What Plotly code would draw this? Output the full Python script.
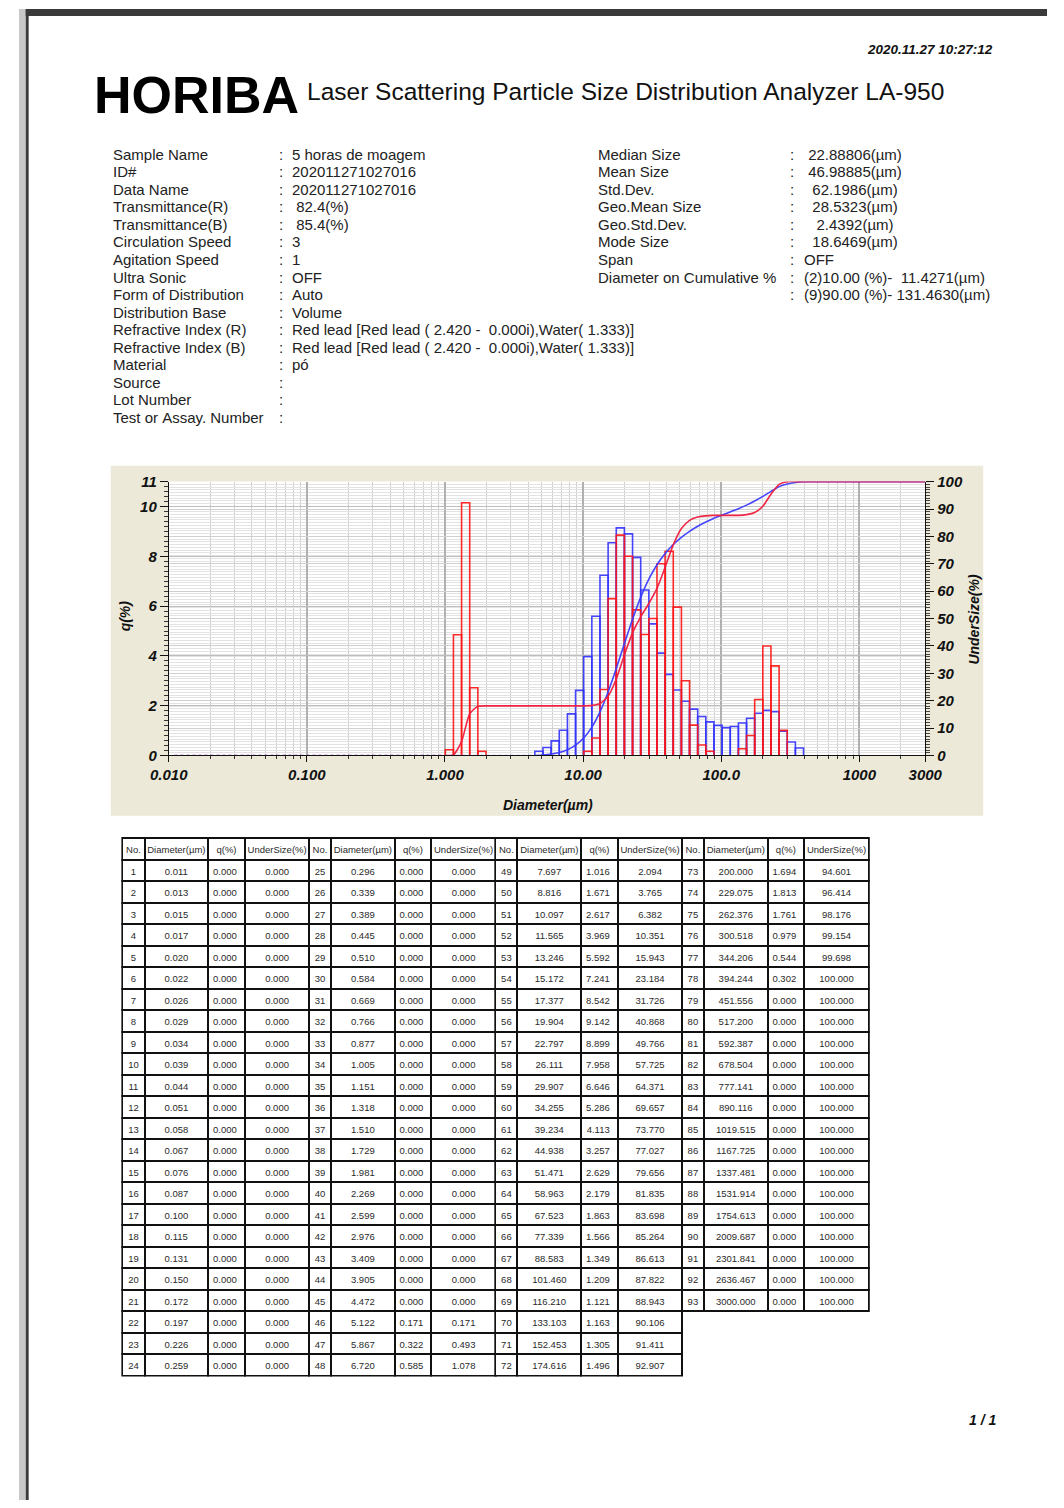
import plotly.graph_objects as go

# ---------------- data ----------------
diameter = [0.011, 0.013, 0.015, 0.017, 0.020, 0.022, 0.026, 0.029, 0.034, 0.039, 0.044, 0.051,
            0.058, 0.067, 0.076, 0.087, 0.100, 0.115, 0.131, 0.150, 0.172, 0.197, 0.226, 0.259,
            0.296, 0.339, 0.389, 0.445, 0.510, 0.584, 0.669, 0.766, 0.877, 1.005, 1.151, 1.318,
            1.510, 1.729, 1.981, 2.269, 2.599, 2.976, 3.409, 3.905, 4.472, 5.122, 5.867, 6.720,
            7.697, 8.816, 10.097, 11.565, 13.246, 15.172, 17.377, 19.904, 22.797, 26.111, 29.907, 34.255,
            39.234, 44.938, 51.471, 58.963, 67.523, 77.339, 88.583, 101.460, 116.210, 133.103, 152.453, 174.616,
            200.000, 229.075, 262.376, 300.518, 344.206, 394.244, 451.556, 517.200, 592.387, 678.504, 777.141, 890.116,
            1019.515, 1167.725, 1337.481, 1531.914, 1754.613, 2009.687, 2301.841, 2636.467, 3000.000]

q_blue = [0.0] * 45 + [0.171, 0.322, 0.585,
          1.016, 1.671, 2.617, 3.969, 5.592, 7.241, 8.542, 9.142, 8.899, 7.958, 6.646, 5.286,
          4.113, 3.257, 2.629, 2.179, 1.863, 1.566, 1.349, 1.209, 1.121, 1.163, 1.305, 1.496,
          1.694, 1.813, 1.761, 0.979, 0.544, 0.302] + [0.0] * 15

under_blue = [0.0] * 45 + [0.171, 0.493, 1.078,
              2.094, 3.765, 6.382, 10.351, 15.943, 23.184, 31.726, 40.868, 49.766, 57.725, 64.371, 69.657,
              73.770, 77.027, 79.656, 81.835, 83.698, 85.264, 86.613, 87.822, 88.943, 90.106, 91.411, 92.907,
              94.601, 96.414, 98.176, 99.154, 99.698, 100.0] + [100.0] * 15

q_red = ([0.0] * 34 + [0.23, 4.85, 10.15, 2.72, 0.17] + [0.0] * 12 +
         [0.17, 0.70, 2.65, 6.30, 8.85, 8.00, 5.85, 4.86, 5.50, 7.70, 8.20, 5.96, 3.00, 1.22, 0.42, 0.17] +
         [0.0] * 3 + [0.27, 0.80, 2.25, 4.40, 3.60, 1.01] + [0.0] * 17)

under_red = ([0.0] * 34 + [0.23, 5.08, 15.23, 17.95, 18.12] + [18.12] * 12 +
             [18.29, 18.99, 21.64, 27.94, 36.79, 44.79, 50.64, 55.50, 61.00, 68.70, 76.90, 82.86, 85.86,
              87.08, 87.50, 87.67] + [87.67] * 3 + [87.94, 88.74, 90.99, 95.39, 98.99, 100.0] + [100.0] * 17)

x_tickvals = [0.01, 0.1, 1, 10, 100, 1000, 3000]
x_ticktext = ["0.010", "0.100", "1.000", "10.00", "100.0", "1000", "3000"]
y_left_ticks = [0, 2, 4, 6, 8, 10, 11]
y_right_ticks = [0, 10, 20, 30, 40, 50, 60, 70, 80, 90, 100]

info_left_labels = ["Sample Name", "ID#", "Data Name", "Transmittance(R)", "Transmittance(B)",
                    "Circulation Speed", "Agitation Speed", "Ultra Sonic", "Form of Distribution",
                    "Distribution Base", "Refractive Index (R)", "Refractive Index (B)", "Material",
                    "Source", "Lot Number", "Test or Assay. Number"]
info_left_values = ["5 horas de moagem", "202011271027016", "202011271027016", " 82.4(%)", " 85.4(%)",
                    "3", "1", "OFF", "Auto", "Volume",
                    "Red lead [Red lead ( 2.420 -  0.000i),Water( 1.333)]",
                    "Red lead [Red lead ( 2.420 -  0.000i),Water( 1.333)]", "pó", "", "", ""]
info_right_labels = ["Median Size", "Mean Size", "Std.Dev.", "Geo.Mean Size", "Geo.Std.Dev.",
                     "Mode Size", "Span", "Diameter on Cumulative %", ""]
info_right_values = [" 22.88806(µm)", " 46.98885(µm)", "  62.1986(µm)", "  28.5323(µm)", "   2.4392(µm)",
                     "  18.6469(µm)", "OFF", "(2)10.00 (%)-  11.4271(µm)", "(9)90.00 (%)- 131.4630(µm)"]

table_header = ["No.", "Diameter(µm)", "q(%)", "UnderSize(%)"]

# ---------------- helpers ----------------
W, H = 1064, 1508
FONT = "Liberation Sans"


def px(x):
    return x / W


def py(y):
    return 1 - y / H


def nb(s):
    return s.replace(" ", "\u00a0")


def bar_outline(q):
    xs, ys = [], []
    for i in range(1, len(diameter)):
        if q[i] > 0:
            xs += [diameter[i - 1], diameter[i - 1], diameter[i], diameter[i], None]
            ys += [0, q[i], q[i], 0, None]
    return xs, ys


def first_rise(u):
    for i, v in enumerate(u):
        if v > 0:
            return i
    return len(u)


fig = go.Figure()

bx, by = bar_outline(q_blue)
fig.add_trace(go.Scatter(x=bx, y=by, mode="lines", line=dict(color="rgba(50,50,255,0.9)", width=1.6),
                         xaxis="x", yaxis="y", hoverinfo="skip"))
rx, ry = bar_outline(q_red)
fig.add_trace(go.Scatter(x=rx, y=ry, mode="lines", line=dict(color="rgba(255,20,20,0.9)", width=1.6),
                         xaxis="x", yaxis="y", hoverinfo="skip"))

for under, col, dotcol in [(under_blue, "rgba(60,60,255,0.95)", "rgba(120,120,255,0.8)"),
                           (under_red, "rgba(240,30,60,0.95)", "rgba(240,60,160,0.9)")]:
    k = first_rise(under)
    fig.add_trace(go.Scatter(x=diameter[:k], y=under[:k], mode="lines",
                             line=dict(color=dotcol, width=1.6, dash="dot"),
                             xaxis="x", yaxis="y2"))
    fig.add_trace(go.Scatter(x=diameter[k - 1:], y=under[k - 1:], mode="lines",
                             line=dict(color=col, width=1.6, shape="spline", smoothing=0.6),
                             xaxis="x", yaxis="y2"))

# ---------------- tables ----------------
groups = [(0, 24), (24, 48), (48, 72), (72, 93)]
group_x = [107, 300, 493, 686]
for g, (s, e) in enumerate(groups):
    rows = e - s
    x0 = group_x[g]
    y_top = 838
    y_bot = y_top + 22 + rows * 21.5 + 8
    fig.add_trace(go.Table(
        domain=dict(x=[px(x0), px(x0 + 194)], y=[py(y_bot), py(y_top)]),
        columnwidth=[23, 66, 38, 67],
        header=dict(values=table_header, height=22, align="center",
                    font=dict(family=FONT, size=9.5, color="#2a2a2a"),
                    line=dict(color="#111", width=2), fill=dict(color="white")),
        cells=dict(values=[[str(i + 1) for i in range(s, e)],
                           [f"{v:.3f}" for v in diameter[s:e]],
                           [f"{v:.3f}" for v in q_blue[s:e]],
                           [f"{v:.3f}" for v in under_blue[s:e]]],
                   height=21.5, align=["center", "center", "right", "center"],
                   font=dict(family=FONT, size=9.5, color="#2a2a2a"),
                   line=dict(color="#111", width=2), fill=dict(color="white")),
    ))

# ---------------- minor tick positions ----------------
minor_x = []
for dec in [0.01, 0.1, 1, 10, 100, 1000]:
    for m in range(2, 10):
        v = m * dec
        if v <= 3000:
            minor_x.append(v)

axis_font = dict(family=FONT, size=15, color="#111")

fig.update_layout(
    width=W, height=H, margin=dict(l=0, r=0, t=0, b=0),
    paper_bgcolor="white", plot_bgcolor="rgba(0,0,0,0)", showlegend=False,
    xaxis=dict(type="log", range=[-2, 3.4771], domain=[px(155), px(938)], anchor="y",
               tickvals=x_tickvals, ticktext=[f"<b><i>{t}</i></b>" for t in x_ticktext],
               tickfont=axis_font, ticks="outside", ticklen=6, tickcolor="#111",
               showline=True, linecolor="#111", linewidth=1,
               showgrid=True, gridcolor="#b0b0b0", gridwidth=1.5, zeroline=False,
               minor=dict(tickmode="array", tickvals=minor_x, ticks="outside", ticklen=3,
                          tickcolor="#333", showgrid=True, gridcolor="#cfcfcf", gridwidth=1)),
    yaxis=dict(range=[0, 11], domain=[py(755), py(478)], anchor="x",
               tickvals=y_left_ticks, ticktext=[f"<b><i>{t}</i></b>" for t in y_left_ticks],
               tickfont=axis_font, ticks="outside", ticklen=8, tickcolor="#111",
               showline=True, linecolor="#111", linewidth=1, zeroline=False,
               showgrid=True, gridcolor="#bdbdbd", gridwidth=1,
               minor=dict(dtick=0.2, ticks="outside", ticklen=4, tickcolor="#333", showgrid=False)),
    yaxis2=dict(range=[0, 100], overlaying="y", side="right", anchor="x",
                tickvals=y_right_ticks, ticktext=[f"<b><i>{t}</i></b>" for t in y_right_ticks],
                tickfont=axis_font, ticks="outside", ticklen=8, tickcolor="#111",
                showline=True, linecolor="#111", linewidth=1, zeroline=False,
                showgrid=True, gridcolor="#d0d0d0", gridwidth=1,
                minor=dict(dtick=1, ticks="outside", ticklen=4, tickcolor="#444",
                           showgrid=True, gridcolor="#e3e3e3", gridwidth=1)),
)

shapes = [
    dict(type="rect", xref="paper", yref="paper", x0=px(95), x1=px(998), y0=py(816), y1=py(462),
         fillcolor="#ece9d8", line=dict(width=0), layer="below"),
    dict(type="rect", xref="x domain", yref="y domain", x0=0, x1=1, y0=0, y1=1,
         fillcolor="white", line=dict(width=0), layer="below"),
    dict(type="rect", xref="paper", yref="paper", x0=0, x1=1, y0=py(7), y1=1,
         fillcolor="#3a3a3a", line=dict(width=0)),
    dict(type="rect", xref="paper", yref="paper", x0=0, x1=px(7), y0=0, y1=1,
         fillcolor="#c8c8c8", line=dict(width=0)),
    dict(type="rect", xref="paper", yref="paper", x0=px(7), x1=px(10), y0=0, y1=1,
         fillcolor="#3a3a3a", line=dict(width=0)),
]
fig.update_layout(shapes=shapes)

ann = []


def add_text(x, y, text, size, xanchor="left", color="#222", angle=0, family=FONT):
    ann.append(dict(x=px(x), y=py(y), xref="paper", yref="paper", text=text, showarrow=False,
                    xanchor=xanchor, yanchor="middle", textangle=angle,
                    font=dict(family=family, size=size, color=color)))


add_text(1010, 41, "<b><i>2020.11.27 10:27:12</i></b>", 13.5, xanchor="right", color="#111")
add_text(76, 87, "<b>HORIBA</b>", 52, color="#000")
add_text(296, 83, "Laser Scattering Particle Size Distribution Analyzer LA-950", 24.5, color="#111")

row_y0, row_dy = 147, 17.73
for i, (lab, val) in enumerate(zip(info_left_labels, info_left_values)):
    y = row_y0 + i * row_dy
    add_text(95, y, nb(lab), 15)
    add_text(267, y, ":", 15)
    if val:
        add_text(281, y, nb(val), 15)
for i, (lab, val) in enumerate(zip(info_right_labels, info_right_values)):
    y = row_y0 + i * row_dy
    if lab:
        add_text(597, y, nb(lab), 15)
    add_text(796, y, ":", 15)
    add_text(810, y, nb(val), 15)

add_text(548, 805, "<b><i>Diameter(µm)</i></b>", 14, xanchor="center", color="#111")
add_text(110, 614, "<b><i>q(%)</i></b>", 14, xanchor="center", color="#111", angle=-90)
add_text(988, 617, "<b><i>UnderSize(%)</i></b>", 14, xanchor="center", color="#111", angle=-90)
add_text(997, 1427, "<b><i>1 / 1</i></b>", 14, xanchor="center", color="#111")

fig.update_layout(annotations=ann)

fig.write_html("out.html")
